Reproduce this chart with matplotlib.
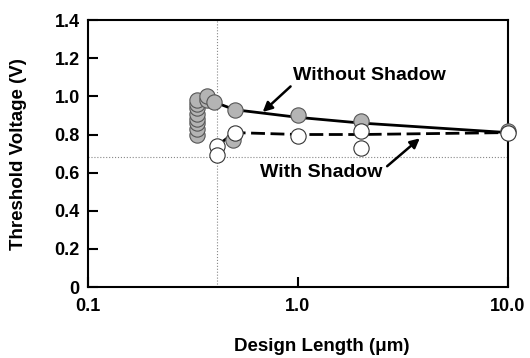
import matplotlib.pyplot as plt
import numpy as np

plt.rcParams['font.family'] = ['Liberation Sans', 'DejaVu Sans']
plt.rcParams['font.weight'] = 'bold'

# measured points, without shadow (gray markers)
gray_x = [0.33, 0.33, 0.33, 0.33, 0.33, 0.33, 0.33, 0.33,
          0.37, 0.37, 0.40, 0.49, 0.50, 1.0, 2.0, 10.0]
gray_y = [0.80, 0.83, 0.86, 0.88, 0.91, 0.94, 0.96, 0.98,
          0.98, 1.00, 0.97, 0.77, 0.93, 0.90, 0.87, 0.82]
# measured points, with shadow (white markers)
white_x = [0.41, 0.41, 0.50, 1.0, 2.0, 2.0, 10.0]
white_y = [0.74, 0.69, 0.81, 0.79, 0.82, 0.73, 0.81]

# trend lines
line_x = [0.40, 0.5, 1.0, 2.0, 10.0]
without_line = [0.97, 0.93, 0.89, 0.86, 0.81]
shadow_line_x = [0.41, 0.5, 1.0, 2.0, 10.0]
with_line = [0.74, 0.81, 0.80, 0.80, 0.81]

ref_x = 0.41
ref_y = 0.68

fig = plt.figure(figsize=(5.3, 3.58), dpi=100)
ax = fig.add_axes([0.166, 0.198, 0.792, 0.746])

ax.axvline(ref_x, color='#888888', lw=0.8, ls=':', zorder=1)
ax.axhline(ref_y, color='#888888', lw=0.8, ls=':', zorder=1)

ax.plot(line_x, without_line, color='black', lw=2, zorder=2)
ax.plot(shadow_line_x, with_line, color='black', lw=2, ls=(0, (5, 2)), zorder=2)

ax.plot(gray_x, gray_y, 'o', ms=11, mfc='#b4b4b4', mec='#555555', mew=0.8, ls='none',
        zorder=3, clip_on=False)
ax.plot(white_x, white_y, 'o', ms=11, mfc='white', mec='#333333', mew=0.8, ls='none',
        zorder=4, clip_on=False)

ax.annotate('Without Shadow', xy=(0.68, 0.918), xytext=(2.2, 1.11),
            ha='center', va='center', fontsize=14, fontweight='bold',
            arrowprops=dict(arrowstyle='-|>', color='black', lw=1.8, shrinkA=0, shrinkB=0,
                            mutation_scale=14, relpos=(0.0, 0.0)))
ax.annotate('With Shadow', xy=(3.81, 0.78), xytext=(1.29, 0.603),
            ha='center', va='center', fontsize=14, fontweight='bold',
            arrowprops=dict(arrowstyle='-|>', color='black', lw=1.8, shrinkA=2, shrinkB=0,
                            mutation_scale=14, relpos=(1.0, 0.6)))

ax.set_xscale('log')
ax.set_xlim(0.1, 10)
ax.set_ylim(0, 1.4)
ax.set_xticks([0.1, 1.0, 10.0])
ax.set_xticklabels(['0.1', '1.0', '10.0'])
ax.xaxis.set_minor_locator(plt.NullLocator())
ax.set_yticks(np.arange(0, 1.41, 0.2))
ax.set_yticklabels(['0', '0.2', '0.4', '0.6', '0.8', '1.0', '1.2', '1.4'])
ax.tick_params(direction='in', length=7, width=1.5, labelsize=13, pad=6)
ax.tick_params(axis='x', pad=8)
for s in ax.spines.values():
    s.set_linewidth(1.5)

ax.set_xlabel('Design Length (\u03bcm)', fontsize=13.5, fontweight='bold')
ax.set_ylabel('Threshold Voltage (V)', fontsize=13.5, fontweight='bold')
ax.xaxis.set_label_coords(0.557, -0.19)
ax.yaxis.set_label_coords(-0.145, 0.5)

fig.savefig('out.png', dpi=100)
